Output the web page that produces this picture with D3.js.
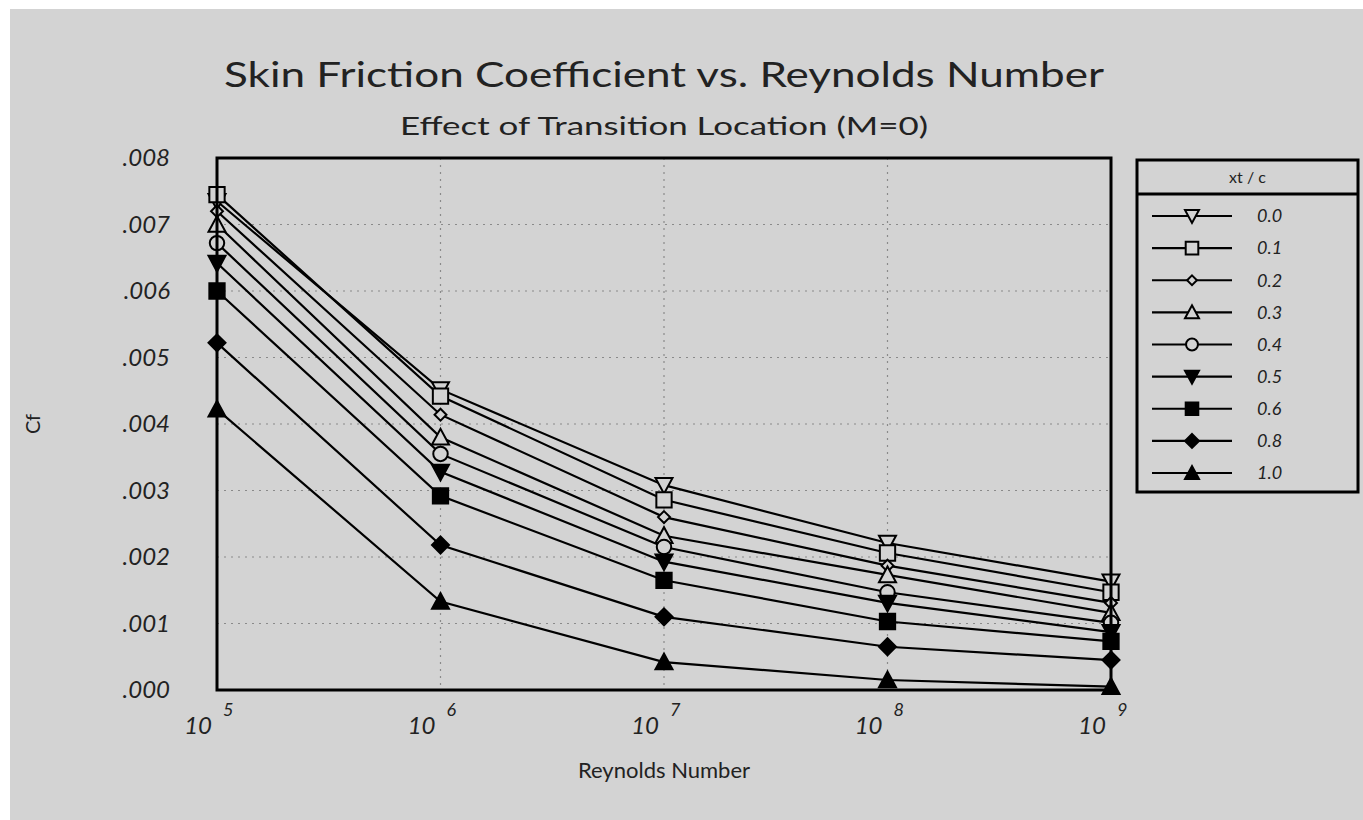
<!DOCTYPE html>
<html><head><meta charset="utf-8">
<script src="https://cdn.jsdelivr.net/npm/d3@7"></script>
<style>
html,body{margin:0;padding:0;background:#fff;}
svg{display:block;}
text{font-family:Lato,"Open Sans",sans-serif;fill:#222;}
</style></head>
<body>
<svg id="chart" width="1363" height="820"></svg>
<script>
// ---- data ----
const reynolds = [1e5, 1e6, 1e7, 1e8, 1e9];
const seriesNames = ["0.0", "0.1", "0.2", "0.3", "0.4", "0.5", "0.6", "0.8", "1.0"];
const cf00 = [0.00735, 0.00452, 0.00308, 0.00221, 0.00163];
const cf01 = [0.00745, 0.00442, 0.00286, 0.00206, 0.00147];
const cf02 = [0.00720, 0.00414, 0.00260, 0.00187, 0.00131];
const cf03 = [0.00700, 0.00380, 0.00232, 0.00173, 0.00116];
const cf04 = [0.00672, 0.00355, 0.00215, 0.00147, 0.00101];
const cf05 = [0.00642, 0.00328, 0.00193, 0.00131, 0.00087];
const cf06 = [0.00600, 0.00292, 0.00165, 0.00103, 0.00073];
const cf08 = [0.00522, 0.00218, 0.00110, 0.00065, 0.00045];
const cf10 = [0.00422, 0.00133, 0.00042, 0.00015, 0.00005];
const yTicks = [0, 0.001, 0.002, 0.003, 0.004, 0.005, 0.006, 0.007, 0.008];
const yTickLabels = [".000", ".001", ".002", ".003", ".004", ".005", ".006", ".007", ".008"];
const xExponents = [5, 6, 7, 8, 9];
const seriesValues = [cf00, cf01, cf02, cf03, cf04, cf05, cf06, cf08, cf10];
// marker shape / filled per series
const markerShapes = ["triDown", "square", "diamondSmall", "triUp", "circle", "triDown", "square", "diamond", "triUp"];
const markerFilled = [false, false, false, false, false, true, true, true, true];

// ---- layout ----
const BG = "#d3d3d3";
const svg = d3.select("#chart");
svg.append("rect").attr("x", 10).attr("y", 9).attr("width", 1353).attr("height", 811).attr("fill", BG);

const L = 217, R = 1111, T = 158, B = 690;
const x = d3.scaleLog().domain([1e5, 1e9]).range([L, R]);
const y = d3.scaleLinear().domain([0, 0.008]).range([B, T]);

// grid
const grid = svg.append("g");
grid.selectAll("line.gx").data(reynolds.slice(1, -1)).join("line")
  .attr("x1", d => x(d)).attr("x2", d => x(d)).attr("y1", T).attr("y2", B)
  .attr("stroke", "#8a8a8a").attr("stroke-width", 1.2).attr("stroke-dasharray", "2,5");
grid.selectAll("line.gy").data(yTicks.slice(1, -1)).join("line")
  .attr("x1", L).attr("x2", R).attr("y1", d => y(d)).attr("y2", d => y(d))
  .attr("stroke", "#8a8a8a").attr("stroke-width", 1.2).attr("stroke-dasharray", "2,5");

// axes labels
const yAxis = d3.axisLeft(y).tickValues(yTicks).tickSize(0).tickPadding(0)
  .tickFormat((d, i) => yTickLabels[i]);
const gy = svg.append("g").attr("transform", `translate(${L - 47},0)`).call(yAxis);
gy.select(".domain").remove();
gy.selectAll("text").attr("font-size", 24).attr("font-style", "italic").attr("fill", "#222")
  .attr("font-family", "Lato, sans-serif").attr("dy", "0.32em");

const xLab = svg.append("g");
const xl = xLab.selectAll("g").data(reynolds).join("g")
  .attr("transform", d => `translate(${x(d)},0)`);
xl.append("text").attr("x", -5).attr("y", 734).attr("text-anchor", "end")
  .attr("font-size", 24).attr("font-style", "italic").text("10");
xl.append("text").attr("x", 6).attr("y", 716).attr("text-anchor", "start")
  .attr("font-size", 18).attr("font-style", "italic").text((d, i) => xExponents[i]);

// lines
const line = d3.line().x((d, i) => x(reynolds[i])).y(d => y(d));
svg.append("g").selectAll("path").data(seriesValues).join("path")
  .attr("d", d => line(d)).attr("fill", "none").attr("stroke", "#000").attr("stroke-width", 2.2);

// markers
function markerPath(shape, s) {
  const h = s / 2;
  switch (shape) {
    case "triDown": return `M${-h},${-h * 0.85}L${h},${-h * 0.85}L0,${h}Z`;
    case "triUp": return `M${-h},${h * 0.85}L${h},${h * 0.85}L0,${-h}Z`;
    case "square": return `M${-h * 0.9},${-h * 0.9}H${h * 0.9}V${h * 0.9}H${-h * 0.9}Z`;
    case "diamond": return `M0,${-h}L${h},0L0,${h}L${-h},0Z`;
    case "diamondSmall": return `M0,${-h * 0.7}L${h * 0.7},0L0,${h * 0.7}L${-h * 0.7},0Z`;
    case "circle": { const r = h * 0.85; return `M${r},0A${r},${r} 0 1,1 ${-r},0A${r},${r} 0 1,1 ${r},0Z`; }
  }
}
const mk = svg.append("g");
seriesValues.forEach((vals, si) => {
  mk.selectAll(null).data(vals).join("path")
    .attr("transform", (d, i) => `translate(${x(reynolds[i])},${y(d)})`)
    .attr("d", markerPath(markerShapes[si], 17))
    .attr("fill", markerFilled[si] ? "#000" : BG)
    .attr("stroke", "#000").attr("stroke-width", 2);
});

// frame
svg.append("rect").attr("x", L).attr("y", T).attr("width", R - L).attr("height", B - T)
  .attr("fill", "none").attr("stroke", "#000").attr("stroke-width", 3);

// titles
svg.append("text").attr("x", 664).attr("y", 87).attr("text-anchor", "middle")
  .attr("font-size", 34).attr("textLength", 880).attr("lengthAdjust", "spacingAndGlyphs")
  .text("Skin Friction Coefficient vs. Reynolds Number");
svg.append("text").attr("x", 664).attr("y", 135).attr("text-anchor", "middle")
  .attr("font-size", 25).attr("textLength", 528).attr("lengthAdjust", "spacingAndGlyphs")
  .text("Effect of Transition Location (M=0)");
svg.append("text").attr("x", 664).attr("y", 778).attr("text-anchor", "middle")
  .attr("font-size", 22).text("Reynolds Number");
svg.append("text").attr("transform", "translate(40,424) rotate(-90)").attr("text-anchor", "middle")
  .attr("font-size", 20).text("Cf");

// legend
const LX = 1137, LY = 160, LW = 221, LH = 332;
const lg = svg.append("g");
lg.append("rect").attr("x", LX).attr("y", LY).attr("width", LW).attr("height", LH)
  .attr("fill", BG).attr("stroke", "#000").attr("stroke-width", 3);
lg.append("line").attr("x1", LX).attr("x2", LX + LW).attr("y1", 194).attr("y2", 194)
  .attr("stroke", "#000").attr("stroke-width", 3);
lg.append("text").attr("x", LX + LW / 2).attr("y", 183).attr("text-anchor", "middle")
  .attr("font-size", 16).text("xt / c");
const ly = d3.scalePoint().domain(seriesNames).range([216, 473]);
const items = lg.selectAll("g.item").data(seriesNames).join("g")
  .attr("transform", d => `translate(0,${ly(d)})`);
items.append("line").attr("x1", 1152).attr("x2", 1232).attr("y1", 0).attr("y2", 0)
  .attr("stroke", "#000").attr("stroke-width", 2.2);
items.append("path").attr("transform", "translate(1192,0)")
  .attr("d", (d, i) => markerPath(markerShapes[i], 14))
  .attr("fill", (d, i) => markerFilled[i] ? "#000" : BG)
  .attr("stroke", "#000").attr("stroke-width", 2);
items.append("text").attr("x", 1257).attr("y", 0).attr("dy", "0.35em")
  .attr("font-size", 18).attr("font-style", "italic").text(d => d);
</script>
</body></html>
